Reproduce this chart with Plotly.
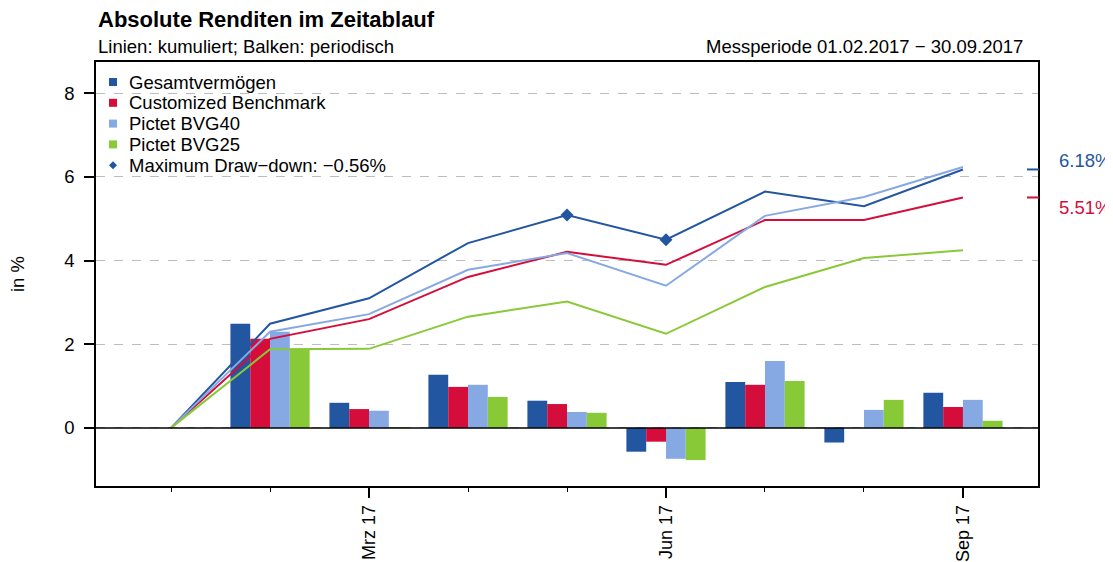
import plotly.graph_objects as go

# ---------------- data ----------------
months = ["Jan 17", "Feb 17", "Mrz 17", "Apr 17", "Mai 17", "Jun 17", "Jul 17", "Aug 17", "Sep 17"]
tick_labels = {"Mrz 17": "Mrz 17", "Jun 17": "Jun 17", "Sep 17": "Sep 17"}

series_names = ["Gesamtvermögen", "Customized Benchmark", "Pictet BVG40", "Pictet BVG25"]

# periodic returns (bars), Feb..Sep
bar_gesamt = [2.49, 0.60, 1.27, 0.65, -0.57, 1.10, -0.35, 0.84]
bar_custom = [2.13, 0.45, 0.98, 0.57, -0.33, 1.03, 0.00, 0.50]
bar_bvg40 = [2.30, 0.41, 1.03, 0.38, -0.74, 1.60, 0.43, 0.67]
bar_bvg25 = [1.88, 0.01, 0.74, 0.36, -0.77, 1.12, 0.67, 0.17]

# cumulative returns (lines), Jan..Sep
cum_gesamt = [0, 2.49, 3.10, 4.42, 5.09, 4.50, 5.65, 5.30, 6.18]
cum_custom = [0, 2.13, 2.60, 3.61, 4.21, 3.90, 4.97, 4.97, 5.51]
cum_bvg40 = [0, 2.30, 2.72, 3.78, 4.18, 3.40, 5.07, 5.52, 6.24]
cum_bvg25 = [0, 1.88, 1.89, 2.66, 3.02, 2.25, 3.37, 4.06, 4.25]

drawdown_months = ["Mai 17", "Jun 17"]
drawdown_label = "Maximum Draw−down: −0.56%"
final_labels = ["6.18%", "5.51%"]
final_values = [6.18, 5.51]

y_ticks = [0, 2, 4, 6, 8]

colors = ["#2356A0", "#D50D3B", "#86A9E3", "#88C937"]

FONT = "Liberation Sans, Arial, Helvetica, sans-serif"
FS = 18.5

# ---------------- geometry helpers ----------------
# page body has an 8px margin, so the figure is drawn 8px smaller and offset
OFF = 8
W, H = 1113 - OFF, 562 - OFF
PL, PR, PT, PB = 96, 1038, 62, 486          # plot box in page pixels
L, T = PL - OFF, PT - OFF
R, B = W - (PR - OFF), H - (PB - OFF)
PW, PH = PR - PL, PB - PT


def px(xpage):
    return (xpage - PL) / PW


def py(ypage):
    return 1 - (ypage - PT) / PH


xidx = {m: i for i, m in enumerate(months)}
bar_x = [xidx[m] for m in months[1:]]
line_x = [xidx[m] for m in months]

fig = go.Figure()

bars = [bar_gesamt, bar_custom, bar_bvg40, bar_bvg25]
for name, vals, c in zip(series_names, bars, colors):
    fig.add_trace(go.Bar(x=bar_x, y=vals, name=name, marker=dict(color=c, line=dict(width=0)),
                         showlegend=False))

lines = [cum_gesamt, cum_custom, cum_bvg40, cum_bvg25]
for name, vals, c in zip(series_names, lines, colors):
    fig.add_trace(go.Scatter(x=line_x, y=vals, mode="lines", line=dict(color=c, width=2),
                             showlegend=False, name=name))

dd_x = [xidx[m] for m in drawdown_months]
dd_y = [cum_gesamt[i] for i in dd_x]
fig.add_trace(go.Scatter(x=dd_x, y=dd_y, mode="markers",
                         marker=dict(symbol="diamond", size=10, color=colors[0]),
                         showlegend=False))

shapes = []
annotations = []

# zero line (above bars)
shapes.append(dict(type="line", xref="paper", yref="y", x0=0, x1=1, y0=0, y1=0,
                   line=dict(color="black", width=1.5), layer="above"))

# right-side markers for final values
for v, c in zip(final_values, colors[:2]):
    shapes.append(dict(type="line", xref="paper", yref="y", x0=px(1027), x1=px(1039), y0=v, y1=v,
                       line=dict(color=c, width=2)))
for lab, v, c, ys in zip(final_labels, final_values, colors[:2], [8.5, -10]):
    annotations.append(dict(text=lab, xref="paper", yref="y", x=1, y=v, xanchor="left",
                            yanchor="middle", xshift=19, yshift=ys, showarrow=False,
                            font=dict(family=FONT, size=FS, color=c)))

# legend (manual)
legend_labels = series_names + [drawdown_label]
row0, step = 82, 20.8
for i, lab in enumerate(legend_labels):
    yc = row0 + i * step
    if i < 4:
        shapes.append(dict(type="rect", xref="paper", yref="paper",
                           x0=px(109), x1=px(117), y0=py(yc - 4), y1=py(yc + 4),
                           fillcolor=colors[i], line=dict(width=0)))
    else:
        cx, r = 113, 4
        path = (f"M {px(cx)} {py(yc - r)} L {px(cx + r)} {py(yc)} "
                f"L {px(cx)} {py(yc + r)} L {px(cx - r)} {py(yc)} Z")
        shapes.append(dict(type="path", xref="paper", yref="paper", path=path,
                           fillcolor=colors[0], line=dict(width=0)))
    annotations.append(dict(text=lab, xref="paper", yref="paper", x=px(127), y=py(yc),
                            xanchor="left", yanchor="middle", showarrow=False,
                            font=dict(family=FONT, size=FS, color="black")))

# titles
annotations.append(dict(text="<b>Absolute Renditen im Zeitablauf</b>", xref="paper", yref="paper",
                        x=px(96), y=py(20), xanchor="left", yanchor="middle", showarrow=False,
                        font=dict(family=FONT, size=22, color="black")))
annotations.append(dict(text="Linien: kumuliert; Balken: periodisch", xref="paper", yref="paper",
                        x=px(96), y=py(46), xanchor="left", yanchor="middle", showarrow=False,
                        font=dict(family=FONT, size=FS, color="black")))
annotations.append(dict(text="Messperiode 01.02.2017 − 30.09.2017", xref="paper", yref="paper",
                        x=px(1025), y=py(46), xanchor="right", yanchor="middle", showarrow=False,
                        font=dict(family=FONT, size=FS, color="black")))
# y-axis title
annotations.append(dict(text="in %", xref="paper", yref="paper", x=px(17), y=0.5,
                        xanchor="center", yanchor="middle", textangle=-90, showarrow=False,
                        font=dict(family=FONT, size=FS, color="black")))

major_vals = [xidx[m] for m in tick_labels]
fig.update_layout(
    width=W, height=H, autosize=False,
    margin=dict(l=L, r=R, t=T, b=B, autoexpand=False),
    paper_bgcolor="white", plot_bgcolor="white",
    barmode="group", bargap=0.2, bargroupgap=0,
    font=dict(family=FONT, size=FS, color="black"),
    shapes=shapes, annotations=annotations,
    xaxis=dict(range=[-0.758, 8.758], tickmode="array", tickvals=major_vals,
               ticktext=list(tick_labels.values()), tickangle=-90, ticks="outside", ticklen=10,
               tickwidth=1.5, tickcolor="black", showgrid=False, zeroline=False,
               showline=True, linecolor="black", linewidth=1.5, mirror=True, automargin=False,
               tickfont=dict(family=FONT, size=18),
               minor=dict(tickvals=line_x, ticks="outside", ticklen=4, tickcolor="black",
                          tickwidth=1, showgrid=False)),
    yaxis=dict(range=[-1.39, 8.75], tickmode="array", tickvals=y_ticks,
               ticks="outside", ticklen=10, tickwidth=1.5, tickcolor="black",
               showgrid=True, gridcolor="#BDBDBD", griddash="dash", gridwidth=1,
               zeroline=False, showline=True, linecolor="black", linewidth=1.5, mirror=True,
               automargin=False, tickfont=dict(family=FONT, size=FS), ticklabelstandoff=6),
)

fig.write_html("out.html")
